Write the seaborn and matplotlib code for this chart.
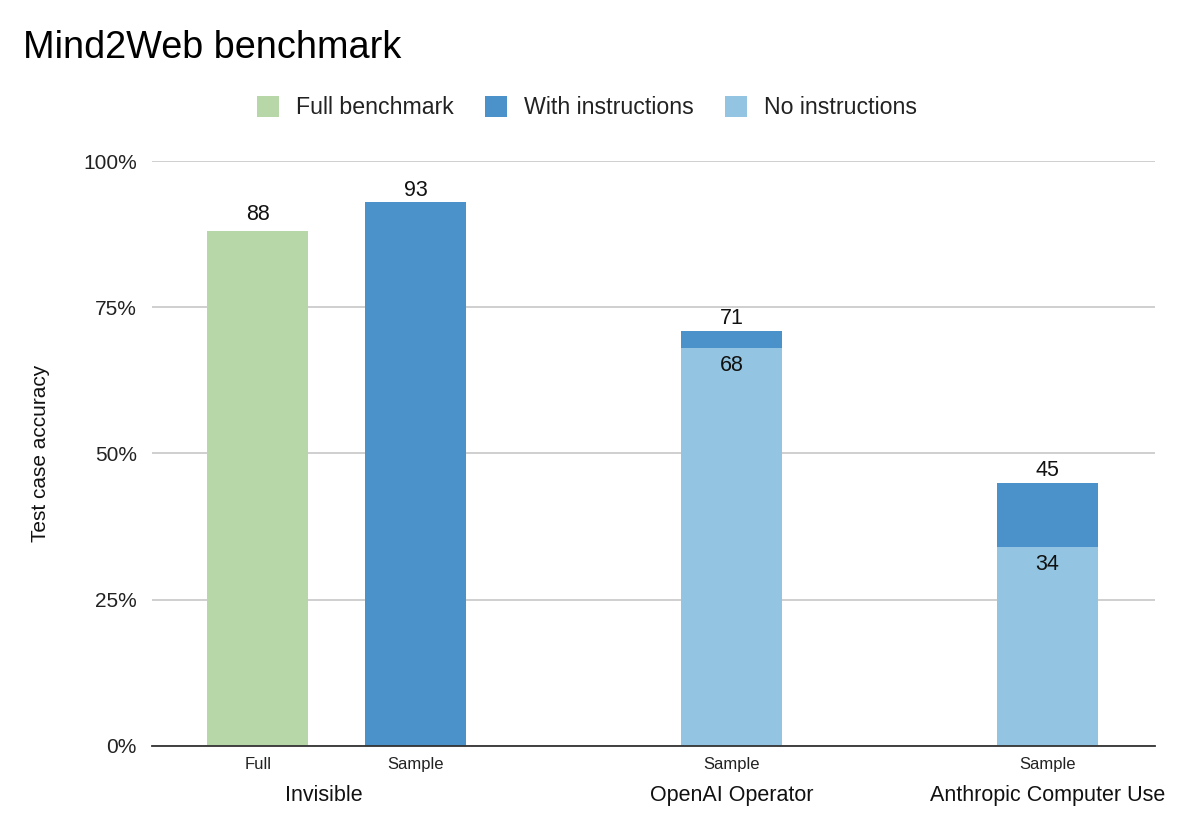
import numpy as np
import pandas as pd
import matplotlib
matplotlib.use("Agg")
import matplotlib.pyplot as plt
import matplotlib.transforms as mtransforms
from matplotlib.patches import Patch
import seaborn as sns

# ── Data ──────────────────────────────────────────────────────
slots = ["full_inv", "sample_inv", "gap1", "sample_op", "gap2", "sample_an"]
tick_labels = ["Full", "Sample", "", "Sample", "", "Sample"]
total_slots = ["full_inv", "sample_inv", "sample_op", "sample_an"]
total_series = ["Full benchmark", "With instructions", "With instructions", "With instructions"]
total_values = [88, 93, 71, 45]
noinstr_slots = ["sample_op", "sample_an"]
noinstr_values = [68, 34]
group_names = ["Invisible", "OpenAI Operator", "Anthropic Computer Use"]
group_pos = [0.42, 3, 5]
yticks = [0, 25, 50, 75, 100]

colors = {
    "Full benchmark": "#b7d7a8",
    "With instructions": "#4a92c9",
    "No instructions": "#93c5e2",
}

# ── Style ─────────────────────────────────────────────────────
sns.set_theme(style="white")
plt.rcParams["font.family"] = ["Liberation Sans", "DejaVu Sans"]

fig = plt.figure(figsize=(12, 8.24), dpi=100)
ax = fig.add_axes([0.1267, 0.0947, 0.9625 - 0.1267, 0.8046 - 0.0947])

df_total = pd.DataFrame({"slot": total_slots, "series": total_series, "value": total_values})
df_no = pd.DataFrame({"slot": noinstr_slots, "series": "No instructions", "value": noinstr_values})

bar_kw = dict(x="slot", y="value", hue="series", order=slots, palette=colors,
              dodge=False, width=0.64, saturation=1, legend=False, ax=ax,
              linewidth=0, edgecolor="none")
sns.barplot(data=df_total, zorder=3, **bar_kw)
n_total_containers = len(ax.containers)
sns.barplot(data=df_no, zorder=4, **bar_kw)

# totals above the bars, "no instructions" values just inside the lower segment
total_pads = [4.6, 1]  # Full benchmark, With instructions
for c, pad in zip(ax.containers[:n_total_containers], total_pads):
    ax.bar_label(c, fmt="%g", padding=pad, fontsize=15.5, color="#111111", zorder=6)
for c in ax.containers[n_total_containers:]:
    ax.bar_label(c, fmt="%g", padding=-20, fontsize=15.5, color="#111111", zorder=6)

ax.set_xlim(-0.67, 5.68)
ax.set_ylim(0, 100)
ax.set_yticks(yticks)
ax.set_yticklabels([f"{v}%" for v in yticks], fontsize=15, color="#222222")
ax.set_xticks(range(len(slots)))
ax.set_xticklabels(tick_labels, fontsize=12, color="#222222")
ax.tick_params(axis="y", length=0, pad=11)
ax.tick_params(axis="x", length=0, pad=8)
ax.yaxis.grid(True, color="#cccccc", linewidth=1.3, zorder=0)
ax.set_axisbelow(True)
for s in ["top", "right", "left"]:
    ax.spines[s].set_visible(False)
ax.spines["bottom"].set_color("#333333")
ax.spines["bottom"].set_linewidth(1.3)
ax.spines["bottom"].set_zorder(5)

ax.set_xlabel("")
ax.set_ylabel("Test case accuracy", fontsize=15, color="#111111", labelpad=24)

trans = mtransforms.blended_transform_factory(ax.transData, ax.transAxes)
for name, x in zip(group_names, group_pos):
    ax.text(x, -0.094, name, transform=trans, ha="center", va="baseline",
            fontsize=15.5, color="#111111")

fig.text(0.019, 0.9296, "Mind2Web benchmark", fontsize=27.3, color="#000000",
         ha="left", va="baseline")

handles = [Patch(facecolor=colors[k], edgecolor="none") for k in colors]
fig.legend(handles, list(colors.keys()), loc="center", bbox_to_anchor=(0.489, 0.8695),
           ncol=3, frameon=False, fontsize=16.7, handlelength=0.95, handleheight=1.0,
           handletextpad=0.73, columnspacing=1.34, labelcolor="#222222")

fig.savefig("out.png", dpi=100)
